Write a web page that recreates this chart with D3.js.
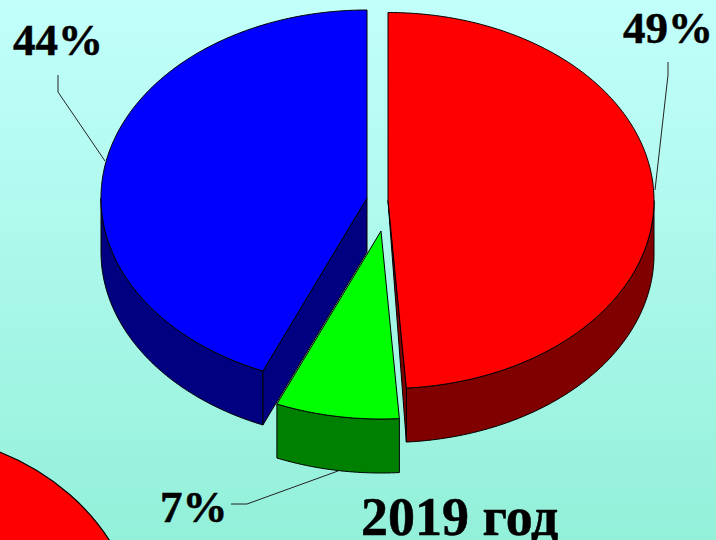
<!DOCTYPE html>
<html><head><meta charset="utf-8">
<script src="https://cdn.jsdelivr.net/npm/d3@7"></script>
<style>html,body{margin:0;padding:0;overflow:hidden}svg{display:block}</style>
</head><body><svg id="c" width="716" height="540"></svg>
<script>
const categories = ["red", "green", "blue"];
const values = [48.9, 7.5, 43.6];
const labels = ["49%", "7%", "44%"];
const topColors = ["#ff0000", "#00ff00", "#0000ff"];
const wallColors = ["#800000", "#008000", "#000080"];
const title = "2019 год";

const W = 716, H = 540, RX = 266, RY = 188, DEPTH = 54;
const centers = [[388, 200.5], [381, 231], [367, 198]];
const textPos = [[623, 43], [160, 522], [13, 55]];
const leaders = [
  [[668, 62], [668, 75], [655, 190]],
  [[231, 504], [247, 504], [338, 471]],
  [[58, 75], [58, 92], [105, 161]]
];

const svg = d3.select("#c");
const defs = svg.append("defs");
const g = defs.append("linearGradient").attr("id", "bg").attr("x1", 0).attr("y1", 0).attr("x2", 0).attr("y2", 1);
g.append("stop").attr("offset", 0).attr("stop-color", "#c2fffb");
g.append("stop").attr("offset", 1).attr("stop-color", "#93f0d9");
svg.append("rect").attr("width", W).attr("height", H).attr("fill", "url(#bg)");

svg.append("ellipse").attr("cx", -100).attr("cy", 643).attr("rx", 240).attr("ry", 210)
  .attr("fill", "#ff0000").attr("stroke", "#000").attr("stroke-width", 1.2);

const arcs = d3.pie().sort(null).value(d => d)(values);
const ux = d3.scaleLinear().domain([-1, 1]);
const uy = d3.scaleLinear().domain([-1, 1]);
function scalesFor(c) {
  return [ux.copy().range([c[0] - RX, c[0] + RX]), uy.copy().range([c[1] - RY, c[1] + RY])];
}
function rim(c, a0, a1, dy) {
  const [x, y] = scalesFor(c);
  const n = Math.max(2, Math.ceil(Math.abs(a1 - a0) / 0.01));
  return d3.range(n + 1).map(i => {
    const a = a0 + (a1 - a0) * i / n;
    return [x(Math.sin(a)), y(-Math.cos(a)) + dy];
  });
}
const line = d3.line();
const draw = (pts, fill) => svg.append("path").attr("d", line(pts) + "Z")
  .attr("fill", fill).attr("stroke", "#000").attr("stroke-width", 1).attr("stroke-linejoin", "round");

[2, 0, 1].forEach(i => {
  const d = arcs[i], c = centers[i];
  const a0 = d.startAngle, a1 = d.endAngle;
  const w0 = Math.max(a0, Math.PI / 2), w1 = Math.min(a1, Math.PI * 1.5);
  if (w1 > w0) {
    const top = rim(c, w0, w1, 0), bot = rim(c, w1, w0, DEPTH);
    draw(top.concat(bot), wallColors[i]);
  }
  if (i === 0) {
    const e = rim(c, a1, a1, 0)[0];
    draw([c, e, [e[0], e[1] + DEPTH]], wallColors[i]);
  }
  if (i === 2) {
    const e = rim(c, a0, a0, 0)[0];
    draw([c, e, [e[0], e[1] + DEPTH], [c[0], c[1] + DEPTH]], wallColors[i]);
  }
  draw([c].concat(rim(c, a0, a1, 0)), topColors[i]);
});

leaders.forEach(p => svg.append("path").attr("d", line(p)).attr("fill", "none")
  .attr("stroke", "#222").attr("stroke-width", 1));

const serif = "'Liberation Serif', 'Times New Roman', serif";
labels.forEach((t, i) => svg.append("text").attr("x", textPos[i][0]).attr("y", textPos[i][1])
  .attr("font-family", serif).attr("font-weight", 700).attr("font-size", 45)
  .attr("fill", "#000").attr("stroke", "#000").attr("stroke-width", 0.5).text(t));
svg.append("text").attr("x", 361).attr("y", 535).attr("font-family", serif).attr("font-weight", 700)
  .attr("font-size", 54).attr("fill", "#000").attr("stroke", "#000").attr("stroke-width", 0.5).text(title);
</script></body></html>
